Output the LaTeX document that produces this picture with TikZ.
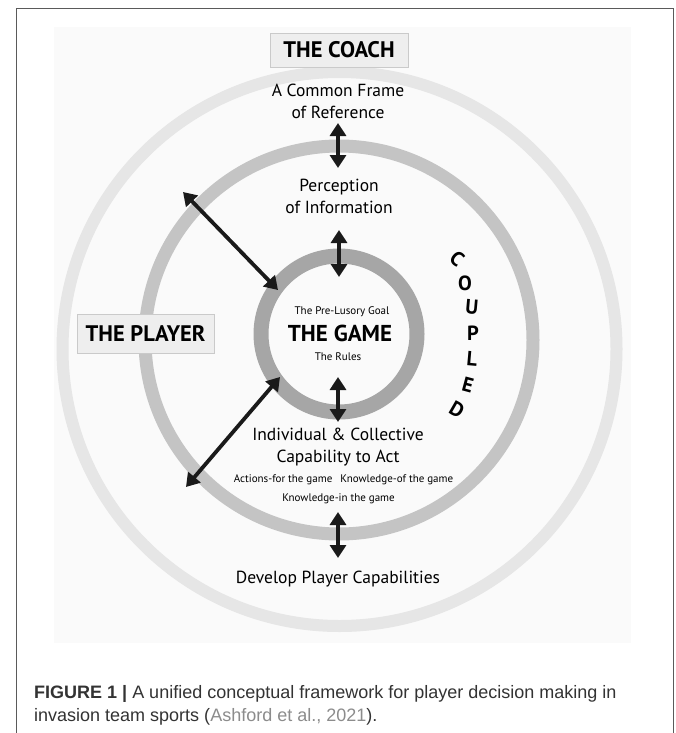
\documentclass[tikz,border=0pt]{standalone}
\usepackage{fontspec}
\setmainfont{PT Sans}
\newfontfamily\capfont{Liberation Sans}
\usetikzlibrary{arrows.meta}

\definecolor{framegrey}{HTML}{5A5A5A}
\definecolor{bggrey}{HTML}{FAFAFA}
\definecolor{coachring}{HTML}{E6E6E6}
\definecolor{playerring}{HTML}{C4C4C4}
\definecolor{gamering}{HTML}{A6A6A6}
\definecolor{boxgrey}{HTML}{EEEEEE}
\definecolor{inkblack}{HTML}{1A1A1A}
\definecolor{citegrey}{HTML}{8C8C8C}

\tikzset{
	ring/.style={circle, draw=#1, line width=13pt, inner sep=0pt},
	namebox/.style={fill=boxgrey, draw=boxgrey!85!black, line width=.6pt,
			inner sep=0pt, font=\bfseries\fontsize{22.5}{26}\selectfont},
	bigtext/.style={font=\bfseries\fontsize{23}{26}\selectfont, inner sep=0pt},
	midtext/.style={font=\fontsize{17.5}{22}\selectfont, align=center, inner sep=0pt},
	smalltext/.style={font=\fontsize{11}{13}\selectfont, inner sep=0pt},
	coupletter/.style={font=\bfseries\fontsize{20.5}{24}\selectfont, inner sep=0pt},
	capline/.style={font=\capfont\fontsize{18}{22}\selectfont, text=black!80, inner sep=0pt},
	link/.style={inkblack, line width=3.8pt, {Triangle[length=13pt, width=16pt]}-{Triangle[length=13pt, width=16pt]}}
}

\begin{document}
\begin{tikzpicture}[x=1pt, y=-1pt]
	\useasboundingbox (0,0) rectangle (675,733);
	\fill[white] (0,0) rectangle (675,733);
	\draw[framegrey, line width=1pt] (16,733) |- (673,9) -- (673,733);
	\fill[bggrey] (54,27) rectangle (631,643);

	% the three rings
	\node[ring=coachring, line width=12pt, minimum size=554pt] (coach) at (339.5,349) {};
	\node[ring=playerring, minimum size=388pt] (player) at (339,340) {};
	\node[ring=gamering, line width=15pt, minimum size=156pt] (game) at (339,334) {};

	\node[namebox, minimum width=138pt, minimum height=34pt] (coachbox) at (339,50) {THE COACH};
	\node[namebox, minimum width=137pt, minimum height=39pt] (playerbox) at (145.5,333.5) {THE PLAYER};

	\node[midtext] (frame) at (338,101) {A Common Frame\\of Reference};
	\node[midtext] (percep) at (339,196) {Perception\\of Information};
	\node[smalltext] (goal) at (342,312) {The Pre-Lusory Goal};
	\node[bigtext] (thegame) at (340,333) {THE GAME};
	\node[smalltext] (rules) at (338,357) {The Rules};
	\node[midtext] (capab) at (338,447.5) {Individual \& Collective\\Capability to Act};
	\node[smalltext] (know1) at (343.5,480) {Actions-for the game\hspace{8pt}Knowledge-of the game};
	\node[smalltext] (know2) at (338.5,499) {Knowledge-in the game};
	\node[midtext] (develop) at (338,579) {Develop Player Capabilities};

	\foreach \l/\x/\y/\r in {C/457/259/-40, O/465/283/0, U/472/307/-5, P/473/333/0,
			L/472/359/-5, E/468/385/-15, D/457/410/-30}
		\node[coupletter, rotate=\r] (cpl-\l) at (\x,\y) {\l};

	% arrow ends
	\coordinate (frameS) at (338,123);
	\coordinate (percepN) at (338,168);
	\coordinate (percepS) at (339,230);
	\coordinate (gameN) at (339,277);
	\coordinate (gameS) at (338,377);
	\coordinate (capabN) at (338,422);
	\coordinate (capabS) at (338,512);
	\coordinate (developN) at (338,558);
	\coordinate (playerNW) at (183,192);
	\coordinate (gameNW) at (278,290);
	\coordinate (gameSW) at (280,377);
	\coordinate (playerSW) at (186,487);

	\draw[link] (frameS) -- (percepN);
	\draw[link] (percepS) -- (gameN);
	\draw[link] (gameS) -- (capabN);
	\draw[link] (capabS) -- (developN);
	\draw[link] (playerNW) -- (gameNW);
	\draw[link] (gameSW) -- (playerSW);

	\node[capline, anchor=base west] (cap1) at (34,698)
	{\textbf{FIGURE 1 |} A unified conceptual framework for player decision making in};
	\node[capline, anchor=base west] (cap2) at (34,721)
	{invasion team sports (\textcolor{citegrey}{Ashford et al., 2021}).};
\end{tikzpicture}
\end{document}
